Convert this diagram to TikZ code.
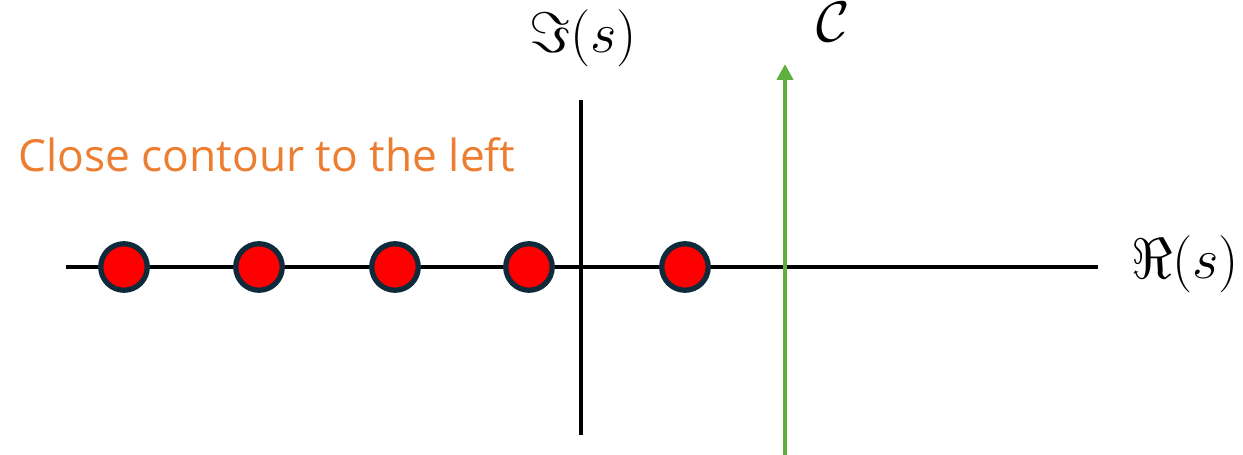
\RequirePackage{fix-cm}
\documentclass[tikz,border=0pt]{standalone}
\usepackage{amsmath}
\usepackage{fontspec}
\setsansfont{Open Sans}
\usepackage{xcolor}
\usepackage{tikz}
\usetikzlibrary{arrows.meta,positioning}
\definecolor{polered}{HTML}{FF0000}
\definecolor{poleedge}{HTML}{0E2A3B}
\definecolor{contourgreen}{HTML}{5FAF3F}
\definecolor{noteorange}{HTML}{ED7D31}
\tikzset{
  polept/.style={
    circle,
    draw=poleedge,
    fill=polered,
    line width=3pt,
    minimum size=0.93cm,
    inner sep=0pt
  },
  axisline/.style={line width=2pt, draw=black},
  contourline/.style={-{Triangle[length=0.32cm,width=0.32cm]}, line width=2.4pt, draw=contourgreen},
  axislabel/.style={font=\fontsize{32.5}{36}\selectfont, inner sep=0pt, anchor=base},
  notetext/.style={font=\sffamily\fontsize{25.2}{30}\selectfont, text=noteorange, inner sep=0pt, anchor=base west}
}

\begin{document}
\begin{tikzpicture}[x=0.02cm,y=-0.02cm]
\useasboundingbox (0,0) rectangle (1243,455);
\coordinate (reL) at (66,267);
\coordinate (reR) at (1098,267);
\coordinate (imB) at (581,435);
\coordinate (imT) at (581,100);
\coordinate (cB) at (785,455);
\coordinate (cT) at (785,64);
\draw[axisline] (reL) -- (reR);
\draw[axisline] (imB) -- (imT);
\draw[contourline] (cB) -- (cT);
\node[polept] (p1) at (124,267) {};
\node[polept] (p2) at (259,267) {};
\node[polept] (p3) at (395,267) {};
\node[polept] (p4) at (529,267) {};
\node[polept] (p5) at (685,267) {};
\node[axislabel] (imlab) at (583,53) {$\Im(s)$};
\node[axislabel] (relab) at (1185,279) {$\Re(s)$};
\node[axislabel] (clab) at (833,42) {$\mathcal{C}$};
\node[notetext] (note) at (18,172) {Close contour to the left};
\end{tikzpicture}
\end{document}
